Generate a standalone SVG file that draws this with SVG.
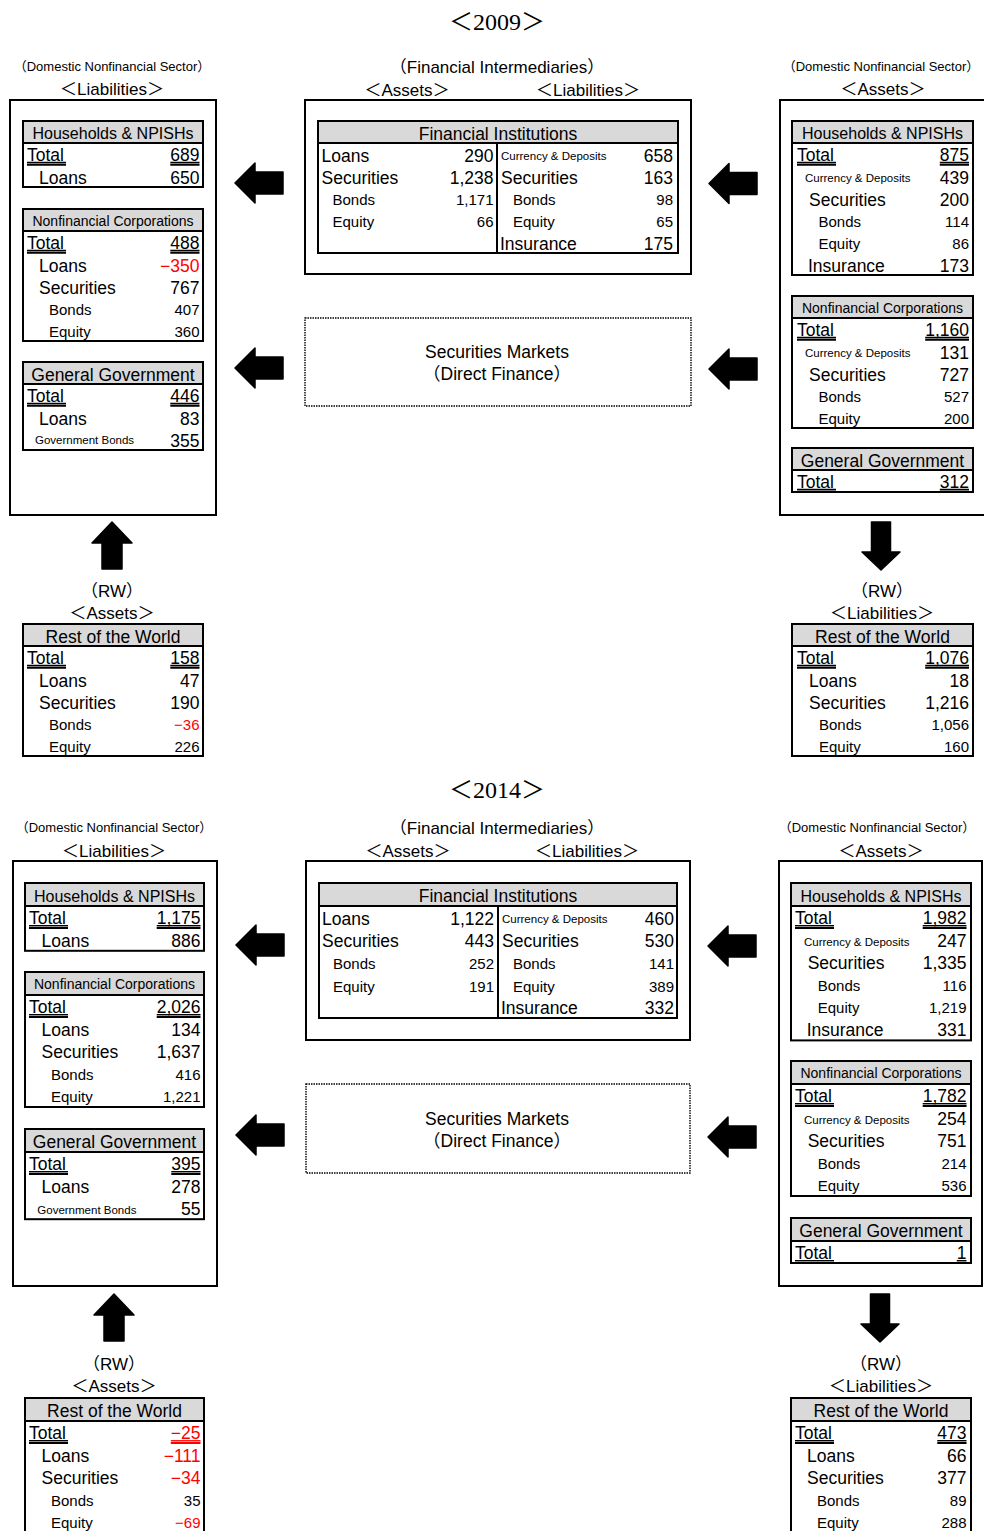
<svg xmlns="http://www.w3.org/2000/svg" xmlns:xlink="http://www.w3.org/1999/xlink" width="984" height="1531" viewBox="0 0 984 1531">
<style>
text{font-family:"Liberation Sans","Noto Sans CJK JP",sans-serif;fill:#000}
.ttl{font-family:"Liberation Serif","Noto Sans CJK JP",serif;font-size:24px;text-anchor:middle}
.lb{font-size:13px;text-anchor:middle}
.lh{font-size:17px;text-anchor:middle}
.hd{font-size:16px;text-anchor:middle}
.hs{font-size:14px;text-anchor:middle}
.hl{font-size:17.5px;text-anchor:middle}
.a{font-size:17.5px}
.tot{font-size:17.5px}
.b{font-size:15px}
.c{font-size:11.5px}
.n{font-size:17.5px;text-anchor:end}
.m{font-size:15px;text-anchor:end}
.neg{fill:#f00}
.ob{fill:none;stroke:#000;stroke-width:2}
.tb{fill:#fff;stroke:#000;stroke-width:2}
.hb{fill:#d9d9d9;stroke:#000;stroke-width:2}
.dv{stroke:#000;stroke-width:2}
.dash{fill:none;stroke:#000;stroke-width:1.4;stroke-dasharray:1.5 1}
.u1{fill:none;stroke:#000;stroke-width:1.2}
.u2{fill:none;stroke:#000;stroke-width:2.2}
.ur{stroke:#f00}
.arr{fill:#000;stroke:#000;stroke-width:1.5;stroke-linejoin:round}
</style>
<defs>
<path id="arL" d="M0 0L20 -20L20 -11L48 -11L48 11L20 11L20 20Z"/>
<path id="arU" d="M0 0L20 21L10 21L10 47L-10 47L-10 21L-20 21Z"/>
<path id="arD" d="M0 0L-19 -18L-9.5 -18L-9.5 -48L9.5 -48L9.5 -18L19 -18Z"/>
</defs>
<rect width="984" height="1531" fill="#fff"/>

<!-- ================= 2009 ================= -->
<g id="n09-title"><text class="ttl" x="497" y="30">＜2009＞</text></g>

<g id="n09-dns-liab">
<text class="lb" x="112" y="71">（Domestic Nonfinancial Sector）</text>
<text class="lh" x="112" y="95">＜Liabilities＞</text>
<rect class="ob" x="10" y="100" width="206" height="415"/>
<g transform="translate(23,121)">
<rect class="tb" width="180" height="66"/><rect class="hb" width="180" height="22"/>
<text class="hd" x="90" y="18">Households &amp; NPISHs</text>
<text class="tot" x="4" y="40">Total</text><text class="n" x="176.5" y="40">689</text>
<path class="u1" d="M4 41.4h39M147.3 41.4h29.2"/><path class="u2" d="M4 43.6h39M147.3 43.6h29.2"/>
<text class="a" x="16" y="62.5">Loans</text><text class="n" x="176.5" y="62.5">650</text>
</g>
<g transform="translate(23,209)">
<rect class="tb" width="180" height="132"/><rect class="hb" width="180" height="22"/>
<text class="hs" x="90" y="16.5">Nonfinancial Corporations</text>
<text class="tot" x="4" y="40">Total</text><text class="n" x="176.5" y="40">488</text>
<path class="u1" d="M4 41.4h39M147.3 41.4h29.2"/><path class="u2" d="M4 43.6h39M147.3 43.6h29.2"/>
<text class="a" x="16" y="62.5">Loans</text><text class="n neg" x="176.5" y="62.5">−350</text>
<text class="a" x="16" y="84.5">Securities</text><text class="n" x="176.5" y="84.5">767</text>
<text class="b" x="26" y="105.5">Bonds</text><text class="m" x="176.5" y="105.5">407</text>
<text class="b" x="26" y="127.5">Equity</text><text class="m" x="176.5" y="127.5">360</text>
</g>
<g transform="translate(23,362)">
<rect class="tb" width="180" height="88"/><rect class="hb" width="180" height="22"/>
<text class="hl" x="90" y="18.5">General Government</text>
<text class="tot" x="4" y="40">Total</text><text class="n" x="176.5" y="40">446</text>
<path class="u1" d="M4 41.4h39M147.3 41.4h29.2"/><path class="u2" d="M4 43.6h39M147.3 43.6h29.2"/>
<text class="a" x="16" y="62.5">Loans</text><text class="n" x="176.5" y="62.5">83</text>
<text class="c" x="12" y="82">Government Bonds</text><text class="n" x="176.5" y="84.5">355</text>
</g>
</g>

<g id="n09-fi">
<text class="lh" x="497" y="73">（Financial Intermediaries）</text>
<text class="lh" x="407" y="96">＜Assets＞</text>
<text class="lh" x="588" y="96">＜Liabilities＞</text>
<rect class="ob" x="305" y="100" width="386" height="174"/>
<g transform="translate(318,121)">
<rect class="tb" width="360" height="132"/><rect class="hb" width="360" height="22"/>
<path class="dv" d="M179 22V132"/>
<text class="hl" x="180" y="18.5">Financial Institutions</text>
<text class="a" x="3.5" y="40.5">Loans</text><text class="n" x="175.5" y="40.5">290</text>
<text class="a" x="3.5" y="62.5">Securities</text><text class="n" x="175.5" y="62.5">1,238</text>
<text class="b" x="14.5" y="84">Bonds</text><text class="m" x="175.5" y="84">1,171</text>
<text class="b" x="14.5" y="105.5">Equity</text><text class="m" x="175.5" y="105.5">66</text>
<text class="c" x="183" y="38.5">Currency &amp; Deposits</text><text class="n" x="355" y="40.5">658</text>
<text class="a" x="183" y="62.5">Securities</text><text class="n" x="355" y="62.5">163</text>
<text class="b" x="195" y="84">Bonds</text><text class="m" x="355" y="84">98</text>
<text class="b" x="195" y="105.5">Equity</text><text class="m" x="355" y="105.5">65</text>
<text class="a" x="182" y="128.5">Insurance</text><text class="n" x="355" y="128.5">175</text>
</g>
</g>

<g id="n09-sec">
<rect class="dash" x="305" y="318" width="386" height="88"/>
<text class="a" x="497" y="358" text-anchor="middle">Securities Markets</text>
<text class="a" x="497" y="380" text-anchor="middle">（Direct Finance）</text>
</g>

<g id="n09-dns-asset">
<text class="lb" x="881" y="71">（Domestic Nonfinancial Sector）</text>
<text class="lh" x="883" y="95">＜Assets＞</text>
<rect class="ob" x="780" y="100" width="212" height="415"/>
<g transform="translate(792,121)">
<rect class="tb" width="181" height="154"/><rect class="hb" width="181" height="22"/>
<text class="hd" x="90.5" y="18">Households &amp; NPISHs</text>
<text class="tot" x="5" y="40">Total</text><text class="n" x="177" y="40">875</text>
<path class="u1" d="M5 41.4h39M147.8 41.4h29.2"/><path class="u2" d="M5 43.6h39M147.8 43.6h29.2"/>
<text class="c" x="13" y="60.5">Currency &amp; Deposits</text><text class="n" x="177" y="62.5">439</text>
<text class="a" x="17" y="84.5">Securities</text><text class="n" x="177" y="84.5">200</text>
<text class="b" x="26.5" y="105.5">Bonds</text><text class="m" x="177" y="105.5">114</text>
<text class="b" x="26.5" y="127.5">Equity</text><text class="m" x="177" y="127.5">86</text>
<text class="a" x="16" y="150.5">Insurance</text><text class="n" x="177" y="150.5">173</text>
</g>
<g transform="translate(792,296)">
<rect class="tb" width="181" height="132"/><rect class="hb" width="181" height="22"/>
<text class="hs" x="90.5" y="16.5">Nonfinancial Corporations</text>
<text class="tot" x="5" y="40">Total</text><text class="n" x="177" y="40">1,160</text>
<path class="u1" d="M5 41.4h39M133.2 41.4h43.8"/><path class="u2" d="M5 43.6h39M133.2 43.6h43.8"/>
<text class="c" x="13" y="60.5">Currency &amp; Deposits</text><text class="n" x="177" y="62.5">131</text>
<text class="a" x="17" y="84.5">Securities</text><text class="n" x="177" y="84.5">727</text>
<text class="b" x="26.5" y="105.5">Bonds</text><text class="m" x="177" y="105.5">527</text>
<text class="b" x="26.5" y="127.5">Equity</text><text class="m" x="177" y="127.5">200</text>
</g>
<g transform="translate(792,448)">
<rect class="tb" width="181" height="44"/><rect class="hb" width="181" height="22"/>
<text class="hl" x="90.5" y="18.5">General Government</text>
<text class="tot" x="5" y="40">Total</text><text class="n" x="177" y="40">312</text>
<path class="u1" d="M5 41.4h39M147.8 41.4h29.2"/><path class="u2" d="M5 43.6h39M147.8 43.6h29.2"/>
</g>
</g>

<g id="n09-rw-asset">
<text class="lh" x="112" y="597">（RW）</text>
<text class="lh" x="112" y="619">＜Assets＞</text>
<g transform="translate(23,624)">
<rect class="tb" width="180" height="132"/><rect class="hb" width="180" height="22"/>
<text class="hl" x="90" y="18.5">Rest of the World</text>
<text class="tot" x="4" y="40">Total</text><text class="n" x="176.5" y="40">158</text>
<path class="u1" d="M4 41.4h39M147.3 41.4h29.2"/><path class="u2" d="M4 43.6h39M147.3 43.6h29.2"/>
<text class="a" x="16" y="62.5">Loans</text><text class="n" x="176.5" y="62.5">47</text>
<text class="a" x="16" y="84.5">Securities</text><text class="n" x="176.5" y="84.5">190</text>
<text class="b" x="26" y="105.5">Bonds</text><text class="m neg" x="176.5" y="105.5">−36</text>
<text class="b" x="26" y="127.5">Equity</text><text class="m" x="176.5" y="127.5">226</text>
</g>
</g>

<g id="n09-rw-liab">
<text class="lh" x="882" y="597">（RW）</text>
<text class="lh" x="882" y="619">＜Liabilities＞</text>
<g transform="translate(792,624)">
<rect class="tb" width="181" height="132"/><rect class="hb" width="181" height="22"/>
<text class="hl" x="90.5" y="18.5">Rest of the World</text>
<text class="tot" x="5" y="40">Total</text><text class="n" x="177" y="40">1,076</text>
<path class="u1" d="M5 41.4h39M133.2 41.4h43.8"/><path class="u2" d="M5 43.6h39M133.2 43.6h43.8"/>
<text class="a" x="17" y="62.5">Loans</text><text class="n" x="177" y="62.5">18</text>
<text class="a" x="17" y="84.5">Securities</text><text class="n" x="177" y="84.5">1,216</text>
<text class="b" x="27" y="105.5">Bonds</text><text class="m" x="177" y="105.5">1,056</text>
<text class="b" x="27" y="127.5">Equity</text><text class="m" x="177" y="127.5">160</text>
</g>
</g>

<!-- ================= 2014 ================= -->
<g id="n14-title"><text class="ttl" x="497" y="798">＜2014＞</text></g>

<g id="n14-dns-liab">
<text class="lb" x="114" y="832">（Domestic Nonfinancial Sector）</text>
<text class="lh" x="114" y="857">＜Liabilities＞</text>
<rect class="ob" x="13" y="861" width="204" height="425"/>
<g transform="translate(25,883)">
<rect class="tb" width="179" height="67.8"/><rect class="hb" width="179" height="23"/>
<text class="hd" x="89.5" y="18.8">Households &amp; NPISHs</text>
<text class="tot" x="4" y="41.3">Total</text><text class="n" x="175.5" y="41.3">1,175</text>
<path class="u1" d="M4 42.7h39M131.7 42.7h43.8"/><path class="u2" d="M4 44.9h39M131.7 44.9h43.8"/>
<text class="a" x="16.5" y="63.7">Loans</text><text class="n" x="175.5" y="63.7">886</text>
</g>
<g transform="translate(25,972)">
<rect class="tb" width="179" height="135"/><rect class="hb" width="179" height="23"/>
<text class="hs" x="89.5" y="17.3">Nonfinancial Corporations</text>
<text class="tot" x="4" y="41.3">Total</text><text class="n" x="175.5" y="41.3">2,026</text>
<path class="u1" d="M4 42.7h39M131.7 42.7h43.8"/><path class="u2" d="M4 44.9h39M131.7 44.9h43.8"/>
<text class="a" x="16.5" y="63.7">Loans</text><text class="n" x="175.5" y="63.7">134</text>
<text class="a" x="16.5" y="86.1">Securities</text><text class="n" x="175.5" y="86.1">1,637</text>
<text class="b" x="26" y="107.7">Bonds</text><text class="m" x="175.5" y="107.7">416</text>
<text class="b" x="26" y="130.1">Equity</text><text class="m" x="175.5" y="130.1">1,221</text>
</g>
<g transform="translate(25,1129)">
<rect class="tb" width="179" height="90.2"/><rect class="hb" width="179" height="23"/>
<text class="hl" x="89.5" y="19">General Government</text>
<text class="tot" x="4" y="41.3">Total</text><text class="n" x="175.5" y="41.3">395</text>
<path class="u1" d="M4 42.7h39M146.3 42.7h29.2"/><path class="u2" d="M4 44.9h39M146.3 44.9h29.2"/>
<text class="a" x="16.5" y="63.7">Loans</text><text class="n" x="175.5" y="63.7">278</text>
<text class="c" x="12.3" y="84.5">Government Bonds</text><text class="n" x="175.5" y="86.1">55</text>
</g>
</g>

<g id="n14-fi">
<text class="lh" x="497" y="834">（Financial Intermediaries）</text>
<text class="lh" x="408" y="857">＜Assets＞</text>
<text class="lh" x="587" y="857">＜Liabilities＞</text>
<rect class="ob" x="306" y="861" width="384" height="179"/>
<g transform="translate(319,883)">
<rect class="tb" width="358" height="135"/><rect class="hb" width="358" height="23"/>
<path class="dv" d="M179 23V135"/>
<text class="hl" x="179" y="19">Financial Institutions</text>
<text class="a" x="3" y="41.5">Loans</text><text class="n" x="175" y="41.5">1,122</text>
<text class="a" x="3" y="63.7">Securities</text><text class="n" x="175" y="63.7">443</text>
<text class="b" x="14" y="85.5">Bonds</text><text class="m" x="175" y="85.5">252</text>
<text class="b" x="14" y="108.5">Equity</text><text class="m" x="175" y="108.5">191</text>
<text class="c" x="183" y="39.5">Currency &amp; Deposits</text><text class="n" x="355" y="41.5">460</text>
<text class="a" x="183" y="63.7">Securities</text><text class="n" x="355" y="63.7">530</text>
<text class="b" x="194" y="85.5">Bonds</text><text class="m" x="355" y="85.5">141</text>
<text class="b" x="194" y="108.5">Equity</text><text class="m" x="355" y="108.5">389</text>
<text class="a" x="182" y="131">Insurance</text><text class="n" x="355" y="131">332</text>
</g>
</g>

<g id="n14-sec">
<rect class="dash" x="306" y="1084" width="384" height="89"/>
<text class="a" x="497" y="1125" text-anchor="middle">Securities Markets</text>
<text class="a" x="497" y="1147" text-anchor="middle">（Direct Finance）</text>
</g>

<g id="n14-dns-asset">
<text class="lb" x="877" y="832">（Domestic Nonfinancial Sector）</text>
<text class="lh" x="881" y="857">＜Assets＞</text>
<rect class="ob" x="779" y="861" width="203" height="425"/>
<g transform="translate(791,883)">
<rect class="tb" width="180" height="157.4"/><rect class="hb" width="180" height="23"/>
<text class="hd" x="90" y="18.8">Households &amp; NPISHs</text>
<text class="tot" x="4" y="41.3">Total</text><text class="n" x="175.5" y="41.3">1,982</text>
<path class="u1" d="M4 42.7h39M131.7 42.7h43.8"/><path class="u2" d="M4 44.9h39M131.7 44.9h43.8"/>
<text class="c" x="13" y="62.5">Currency &amp; Deposits</text><text class="n" x="175.5" y="63.7">247</text>
<text class="a" x="16.7" y="86.1">Securities</text><text class="n" x="175.5" y="86.1">1,335</text>
<text class="b" x="26.7" y="107.7">Bonds</text><text class="m" x="175.5" y="107.7">116</text>
<text class="b" x="26.7" y="130.1">Equity</text><text class="m" x="175.5" y="130.1">1,219</text>
<text class="a" x="15.7" y="153.4">Insurance</text><text class="n" x="175.5" y="153.4">331</text>
</g>
<g transform="translate(791,1061)">
<rect class="tb" width="180" height="135"/><rect class="hb" width="180" height="23"/>
<text class="hs" x="90" y="17.3">Nonfinancial Corporations</text>
<text class="tot" x="4" y="41.3">Total</text><text class="n" x="175.5" y="41.3">1,782</text>
<path class="u1" d="M4 42.7h39M131.7 42.7h43.8"/><path class="u2" d="M4 44.9h39M131.7 44.9h43.8"/>
<text class="c" x="13" y="62.5">Currency &amp; Deposits</text><text class="n" x="175.5" y="63.7">254</text>
<text class="a" x="16.7" y="86.1">Securities</text><text class="n" x="175.5" y="86.1">751</text>
<text class="b" x="26.7" y="107.7">Bonds</text><text class="m" x="175.5" y="107.7">214</text>
<text class="b" x="26.7" y="130.1">Equity</text><text class="m" x="175.5" y="130.1">536</text>
</g>
<g transform="translate(791,1218)">
<rect class="tb" width="180" height="45"/><rect class="hb" width="180" height="23"/>
<text class="hl" x="90" y="19">General Government</text>
<text class="tot" x="4" y="41.3">Total</text><text class="n" x="175.5" y="41.3">1</text>
<path class="u1" d="M4 42.7h39M165.8 42.7h9.7"/><path class="u2" d="M4 44.9h39M165.8 44.9h9.7"/>
</g>
</g>

<g id="n14-rw-asset">
<text class="lh" x="114" y="1370">（RW）</text>
<text class="lh" x="114" y="1392">＜Assets＞</text>
<g transform="translate(25,1398)">
<rect class="tb" width="179" height="135"/><rect class="hb" width="179" height="23"/>
<text class="hl" x="89.5" y="19">Rest of the World</text>
<text class="tot" x="4" y="41.3">Total</text><text class="n neg" x="175.5" y="41.3">−25</text>
<path class="u1" d="M4 42.7h39"/><path class="u2" d="M4 44.9h39"/>
<path class="u1 ur" d="M145.8 42.7h29.7"/><path class="u2 ur" d="M145.8 44.9h29.7"/>
<text class="a" x="16.5" y="63.7">Loans</text><text class="n neg" x="175.5" y="63.7">−111</text>
<text class="a" x="16.5" y="86.1">Securities</text><text class="n neg" x="175.5" y="86.1">−34</text>
<text class="b" x="26" y="107.7">Bonds</text><text class="m" x="175.5" y="107.7">35</text>
<text class="b" x="26" y="130.1">Equity</text><text class="m neg" x="175.5" y="130.1">−69</text>
</g>
</g>

<g id="n14-rw-liab">
<text class="lh" x="881" y="1370">（RW）</text>
<text class="lh" x="881" y="1392">＜Liabilities＞</text>
<g transform="translate(791,1398)">
<rect class="tb" width="180" height="135"/><rect class="hb" width="180" height="23"/>
<text class="hl" x="90" y="19">Rest of the World</text>
<text class="tot" x="4" y="41.3">Total</text><text class="n" x="175.5" y="41.3">473</text>
<path class="u1" d="M4 42.7h39M146.3 42.7h29.2"/><path class="u2" d="M4 44.9h39M146.3 44.9h29.2"/>
<text class="a" x="16" y="63.7">Loans</text><text class="n" x="175.5" y="63.7">66</text>
<text class="a" x="16" y="86.1">Securities</text><text class="n" x="175.5" y="86.1">377</text>
<text class="b" x="26" y="107.7">Bonds</text><text class="m" x="175.5" y="107.7">89</text>
<text class="b" x="26" y="130.1">Equity</text><text class="m" x="175.5" y="130.1">288</text>
</g>
</g>

<!-- block arrows between sectors -->
<g id="connectors" class="arr">
<use xlink:href="#arL" href="#arL" transform="translate(235,183)"/>
<use xlink:href="#arL" href="#arL" transform="translate(235,368)"/>
<use xlink:href="#arL" href="#arL" transform="translate(709,183.5)"/>
<use xlink:href="#arL" href="#arL" transform="translate(709,369)"/>
<use xlink:href="#arU" href="#arU" transform="translate(112,522)"/>
<use xlink:href="#arD" href="#arD" transform="translate(881,570)"/>
<use xlink:href="#arL" href="#arL" transform="translate(236,945)"/>
<use xlink:href="#arL" href="#arL" transform="translate(236,1135)"/>
<use xlink:href="#arL" href="#arL" transform="translate(708,946)"/>
<use xlink:href="#arL" href="#arL" transform="translate(708,1137)"/>
<use xlink:href="#arU" href="#arU" transform="translate(114,1294)"/>
<use xlink:href="#arD" href="#arD" transform="translate(880,1342)"/>
</g>
</svg>
